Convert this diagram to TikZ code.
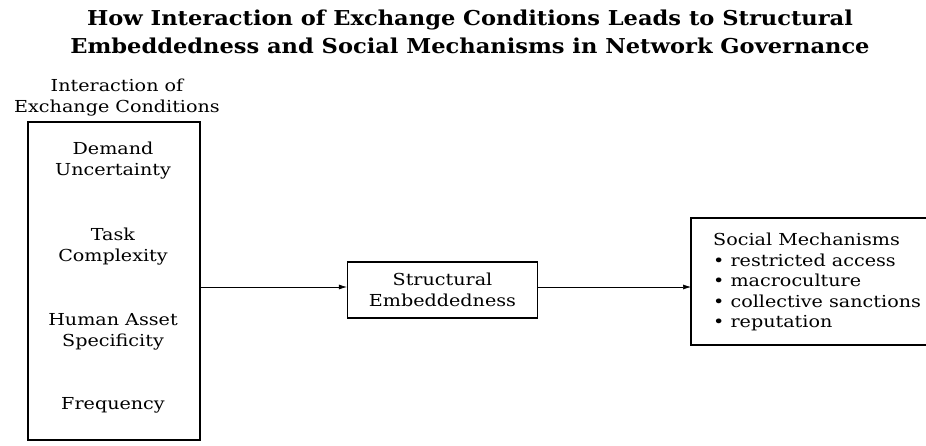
\documentclass[tikz,border=0pt]{standalone}
\usepackage{fontspec}
\setmainfont{DejaVu Serif}
\newfontfamily\bodyfont[FakeStretch=1.16]{DejaVu Serif}
\newfontfamily\headfont[FakeStretch=1.1]{DejaVu Serif}
\usetikzlibrary{arrows.meta}
\begin{document}
\begin{tikzpicture}[x=1pt,y=-1pt,
  box/.style={draw, line width=1.3pt},
  lbl/.style={align=center, font=\bodyfont\fontsize{16.5}{21}\selectfont, inner sep=0pt},
  link/.style={-{Latex[length=8pt,width=5pt]}, line width=0.6pt}]
\useasboundingbox (0,0) rectangle (926,445);

% title
\node[font=\headfont\bfseries\fontsize{20.5}{28}\selectfont, align=center, inner sep=0pt] (title) at (470,32)
  {How Interaction of Exchange Conditions Leads to Structural\\Embeddedness and Social Mechanisms in Network Governance};

% exchange conditions column
\node[lbl] (head) at (117,98) {Interaction of\\Exchange Conditions};
\draw[box] (28,122) rectangle (200,440);
\coordinate (cond) at (200,287);
\node[lbl] (c1) at (113,161) {Demand\\Uncertainty};
\node[lbl] (c2) at (113,247) {Task\\Complexity};
\node[lbl] (c3) at (113,332) {Human Asset\\Specificity};
\node[lbl] (c4) at (113,405) {Frequency};

% structural embeddedness
\node[box, lbl, minimum width=190pt, minimum height=56pt] (se) at (442.5,290) {Structural\\Embeddedness};

% social mechanisms
\draw[box] (691,218) rectangle (928,345);
\coordinate (sm) at (691,287);
\node[anchor=north west, align=left, inner sep=0pt, font=\bodyfont\fontsize{16.5}{20.5}\selectfont] (smtext) at (713,233)
  {Social Mechanisms\\
   \textbullet\ restricted access\\
   \textbullet\ macroculture\\
   \textbullet\ collective sanctions\\
   \textbullet\ reputation};

% connectors
\draw[link] (cond) -- (se.west |- cond);
\draw[link] (se.east |- sm) -- (sm);
\end{tikzpicture}
\end{document}
